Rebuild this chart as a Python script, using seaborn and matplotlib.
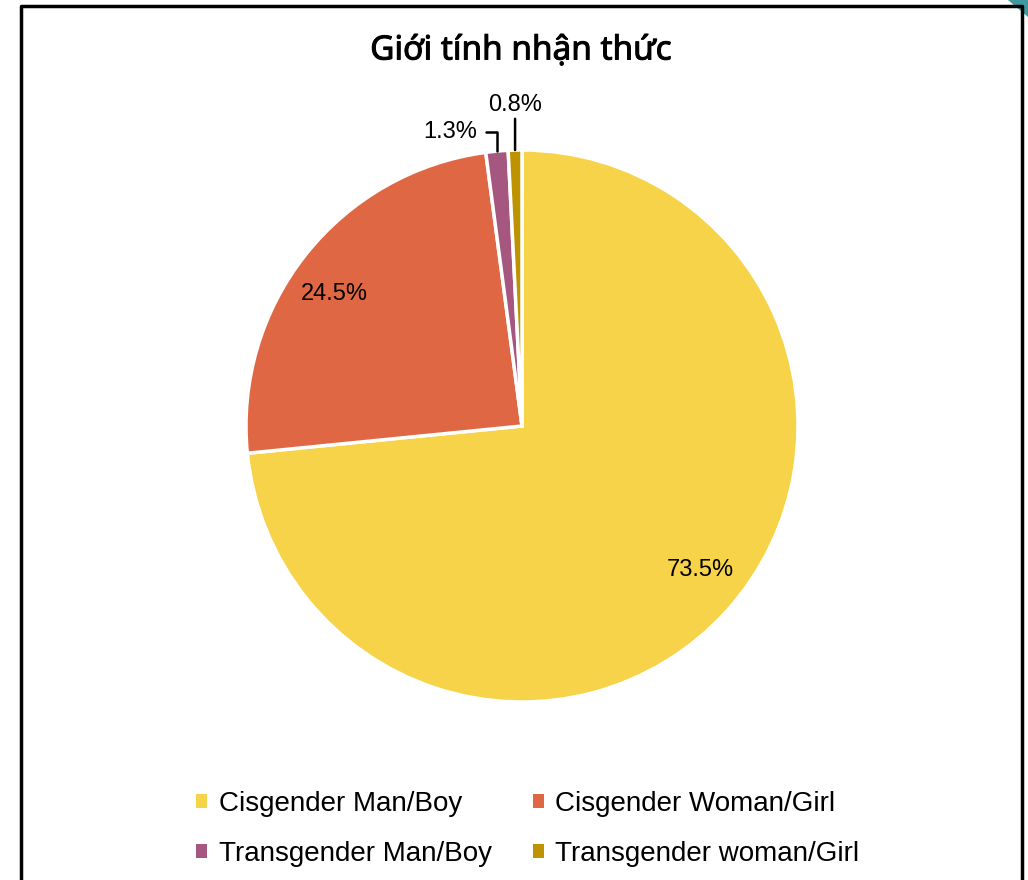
import numpy as np
import matplotlib
matplotlib.use("Agg")
import matplotlib.pyplot as plt
import matplotlib.patheffects as pe
from matplotlib.patches import Patch, Polygon
from matplotlib.lines import Line2D
import seaborn as sns

# Survey shares of perceived gender identity
categories = ["Cisgender Man/Boy", "Cisgender Woman/Girl",
              "Transgender Man/Boy", "Transgender woman/Girl"]
shares = [73.5, 24.5, 1.3, 0.8]
pct_labels = ["73.5%", "24.5%", "1.3%", "0.8%"]
colors = ["#F7D34A", "#E06744", "#A5577F", "#BF9300"]
title = "Giới tính nhận thức"

sns.set_theme(style="white")
plt.rcParams["font.family"] = ["Liberation Sans", "DejaVu Sans"]
plt.rcParams["text.color"] = "black"

W, H = 1028, 880
fig = plt.figure(figsize=(W / 100, H / 100), dpi=100)
fig.patch.set_facecolor("white")

# Pie axes: square box centred on the chart area
cx, cy, r = 522, 426, 276
ax = fig.add_axes([(cx - r) / W, (H - cy - r) / H, 2 * r / W, 2 * r / H])
palette = sns.color_palette(colors)
wedges, _ = ax.pie(shares, colors=palette, startangle=90, counterclock=False,
                   wedgeprops=dict(edgecolor="white", linewidth=2.5))
ax.set_xlim(-1, 1)
ax.set_ylim(-1, 1)
ax.set_aspect("equal")
ax.axis("off")

def mid_angle(w, shift=0.0):
    return np.deg2rad((w.theta1 + w.theta2) / 2 + shift)

# Inside labels for the two large wedges
for w, lab in zip(wedges[:2], pct_labels[:2]):
    a = mid_angle(w, 3.3)
    ax.text(0.832 * np.cos(a), 0.832 * np.sin(a), lab, ha="center", va="center",
            fontsize=17, color="black")

# Outside labels with leader lines for the thin wedges
a = mid_angle(wedges[2])
ax.annotate(pct_labels[2], xy=(np.cos(a), np.sin(a)),
            xytext=(np.cos(a) - 0.07, 1.065), ha="right", va="center",
            fontsize=17, color="black",
            arrowprops=dict(arrowstyle="-", color="black", lw=1.8,
                            connectionstyle="angle,angleA=0,angleB=90,rad=0",
                            relpos=(1, 0.5), shrinkA=4, shrinkB=0))
a = mid_angle(wedges[3])
ax.annotate(pct_labels[3], xy=(np.cos(a), np.sin(a)),
            xytext=(np.cos(a), 1.125), ha="center", va="bottom",
            fontsize=17, color="black",
            arrowprops=dict(arrowstyle="-", color="black", lw=1.8,
                            relpos=(0.5, 0), shrinkA=0, shrinkB=0))

fig.text(521 / W, 1 - 51 / H, title, ha="center", va="center",
         fontsize=24, family=["Noto Sans", "DejaVu Sans"], color="black",
         path_effects=[pe.withStroke(linewidth=0.7, foreground="black")])

# Legend filled row by row
order = [0, 2, 1, 3]
handles = [Patch(facecolor=palette[i], edgecolor="none") for i in order]
labels = [categories[i] for i in order]
fig.legend(handles, labels, loc="center", bbox_to_anchor=(528 / W, 1 - 829 / H),
           ncol=2, frameon=False, fontsize=20, handlelength=0.4, handleheight=0.4,
           handletextpad=0.4, columnspacing=1.5, labelspacing=0.85,
           labelcolor="black")

# Chart frame (open at the bottom) and corner accent
fig.add_artist(Line2D([21 / W, 21 / W, 1022 / W, 1022 / W],
                      [0, 1 - 6 / H, 1 - 6 / H, 0], color="black", lw=2.5))
fig.add_artist(Polygon([[1008 / W, 1], [1, 1], [1, 1 - 17 / H]], closed=True,
                       facecolor="#3E9AA0", edgecolor="none"))

fig.savefig("out.png", dpi=100, facecolor="white")
